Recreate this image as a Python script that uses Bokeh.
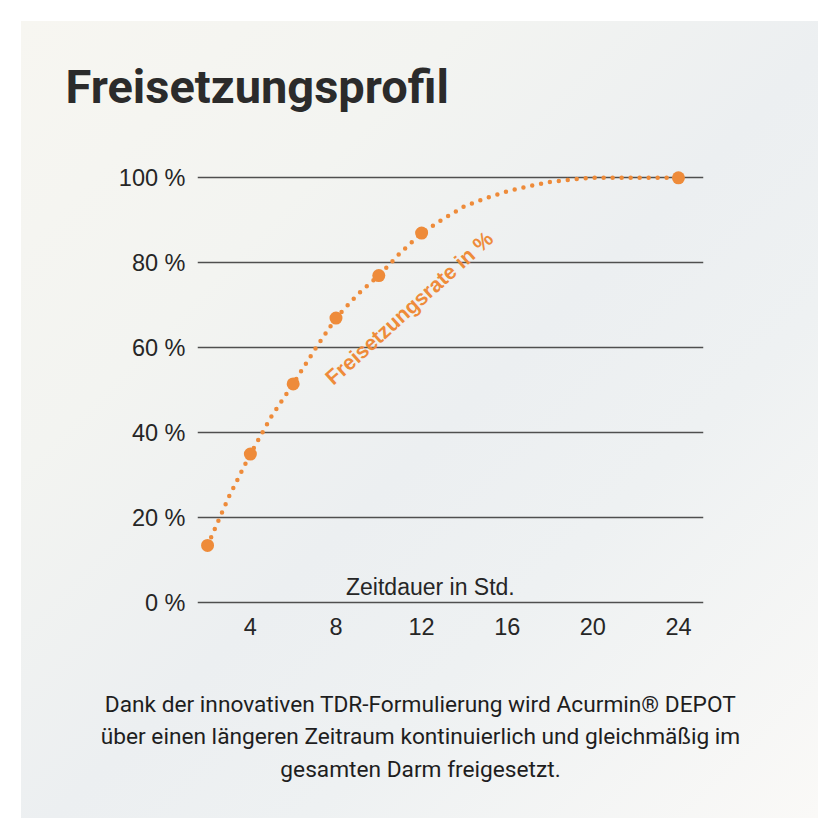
from bokeh.plotting import figure
from bokeh.layouts import column
from bokeh.models import Label, FixedTicker, Range1d
from bokeh.embed import file_html
from bokeh.resources import INLINE

# Measured release (%) at the sampling times (hours)
hours = [2, 4, 6, 8, 10, 12, 24]
release = [13.5, 35, 51.5, 67, 77, 87, 100]

# Fitted release curve, read hour by hour
curve_hours = [2, 3, 4, 5, 6, 7, 8, 9, 10, 11, 12, 13, 14, 15, 16, 17, 18,
               19, 20, 21, 22, 23, 24]
curve_release = [13.5, 25, 35, 44, 51.5, 59.5, 67, 72.5, 77, 82.3, 87, 90.3,
                 93.3, 95.2, 96.8, 98.0, 99.0, 99.6, 100, 100, 100, 100, 100]

x_ticks = [4, 8, 12, 16, 20, 24]
y_ticks = [0, 20, 40, 60, 80, 100]
y_tick_labels = {v: f"{v} %" for v in y_ticks}

title_text = "Freisetzungsprofil"
series_label = "Freisetzungsrate in %"
x_label = "Zeitdauer in Std."
caption_lines = [
    "Dank der innovativen TDR-Formulierung wird Acurmin\u00ae DEPOT",
    "\u00fcber einen l\u00e4ngeren Zeitraum kontinuierlich und gleichm\u00e4\u00dfig im",
    "gesamten Darm freigesetzt.",
]

ORANGE = "#ee8b3a"
TEXT = "#262626"
HEAD_FONT = "Roboto"
SANS = "'Liberation Sans', Arial, sans-serif"
W = 797


def blank_panel(height):
    """A transparent text-only strip whose data units are pixels from the top-left."""
    f = figure(width=W, height=height, x_range=Range1d(0, W), y_range=Range1d(height, 0),
               x_axis_type=None, y_axis_type=None, toolbar_location=None,
               output_backend="svg", min_border=0)
    f.background_fill_alpha = 0
    f.border_fill_alpha = 0
    f.outline_line_color = None
    f.xgrid.visible = False
    f.ygrid.visible = False
    return f


# Heading strip
head = blank_panel(100)
head.add_layout(Label(x=44, y=64.6, text=title_text, text_align="left",
                      text_baseline="middle", text_font=HEAD_FONT,
                      text_font_style="bold", text_font_size="47px",
                      text_color="#2b2b2b"))

# Release chart
p = figure(
    width=W, height=536,
    x_range=Range1d(1.53, 25.17), y_range=Range1d(-1.106, 105.95),
    min_border_left=176, min_border_right=115,
    min_border_top=31, min_border_bottom=50,
    toolbar_location=None, output_backend="svg",
)
p.background_fill_alpha = 0
p.border_fill_alpha = 0
p.outline_line_color = None

for ax in (p.xaxis[0], p.yaxis[0]):
    ax.axis_line_color = None
    ax.major_tick_line_color = None
    ax.minor_tick_line_color = None
    ax.major_label_text_font = SANS
    ax.major_label_text_font_size = "23.5px"
    ax.major_label_text_color = TEXT

p.xaxis.ticker = FixedTicker(ticks=x_ticks)
p.xaxis.major_label_standoff = 4
p.yaxis.ticker = FixedTicker(ticks=y_ticks)
p.yaxis.major_label_overrides = y_tick_labels
p.yaxis.major_label_standoff = 6

p.xgrid.grid_line_color = None
p.ygrid.ticker = FixedTicker(ticks=y_ticks)
p.ygrid.grid_line_color = "#4f4f4f"
p.ygrid.grid_line_width = 1.6

# Dotted release curve and measured points
p.line(curve_hours, curve_release, line_color=ORANGE, line_width=4.5,
       line_dash="0 9", line_cap="round")
p.scatter(hours, release, size=13, fill_color=ORANGE, line_color=None)

p.add_layout(Label(x=11.41, y=69.4, text=series_label, angle=42, angle_units="deg",
                   text_align="center", text_baseline="middle",
                   text_font=SANS, text_font_style="bold",
                   text_font_size="21px", text_color=ORANGE))

p.add_layout(Label(x=12.41, y=3.8, text=x_label, text_align="center",
                   text_baseline="middle", text_font=SANS,
                   text_font_size="23px", text_color=TEXT))

# Caption strip
foot = blank_panel(161)
for line, y in zip(caption_lines, [46.9, 78.9, 111.9]):
    foot.add_layout(Label(x=399, y=y, text=line, text_align="center",
                          text_baseline="middle", text_font=HEAD_FONT,
                          text_font_size="22.7px", text_color="#1e1e1e"))

# Each strip sits in its own column so the chart's borders are not imposed on it
page = column(column(head), column(p), column(foot), spacing=0)
page.margin = (21, 0, 0, 21)
page.styles = {
    "background": "linear-gradient(135deg, #f7f6f1 0%, #f3f4f1 28%, "
                  "#eceff1 52%, #eef1f2 68%, #faf9f7 100%)"
}

open("out.html", "w").write(file_html(page, INLINE))
